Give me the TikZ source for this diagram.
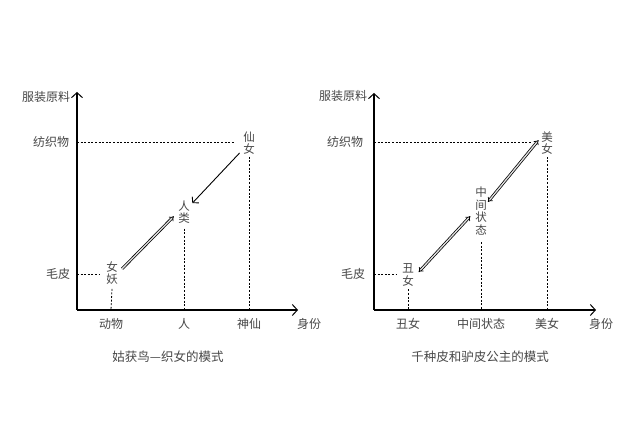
\documentclass[tikz,border=0pt]{standalone}
\usepackage{fontspec}
\setmainfont{Noto Sans CJK SC}
\usetikzlibrary{arrows.meta}
\begin{document}
\begin{tikzpicture}[x=1pt,y=-1pt,
  lab/.style={font=\fontsize{12}{13}\selectfont, text=black!72, inner sep=0pt},
  vlab/.style={font=\fontsize{11.5}{12.5}\selectfont, text=black!72, inner sep=0pt, align=center},
  axisline/.style={line width=1.1pt, -{Straight Barb[length=5pt,width=11pt,line width=1pt]}},
  guide/.style={line width=0.8pt, dash pattern=on 2pt off 1.6pt},
  onearrow/.style={line width=0.9pt, -{Straight Barb[length=4pt,width=9pt]}},
  twoarrow/.style={line width=0.75pt, double=black!12, double distance=1.3pt, {Implies}-{Implies}},
  onetwoarrow/.style={line width=0.75pt, double=black!12, double distance=1.3pt, -{Implies}}
]
\useasboundingbox (0,0) rectangle (640,427);
\fill[white] (0,0) rectangle (640,427);

% ---------- left chart ----------
\coordinate (O1) at (77,310);
\coordinate (Y1) at (77,92);
\coordinate (X1) at (298,310);
\draw[axisline] (O1) -- (Y1);
\draw[axisline] (O1) -- (X1);

\node[lab] (ly1) at (46,97) {服装原料};
\node[lab] (lf1) at (51,142) {纺织物};
\node[lab] (lm1) at (58,274) {毛皮};
\node[lab] (lx1a) at (111,324) {动物};
\node[lab] (lx1b) at (184,324) {人};
\node[lab] (lx1c) at (249,324) {神仙};
\node[lab] (lx1d) at (309,324) {身份};

\node[vlab] (xiannv) at (249,143) {仙\\女};
\node[vlab] (renlei) at (184,212) {人\\类};
\node[vlab] (nvyao) at (112,273) {女\\妖};

\coordinate (g1a) at (77,142); \coordinate (g1b) at (235,142);
\coordinate (g1c) at (77,274); \coordinate (g1d) at (99,274);
\draw[guide] (g1a) -- (g1b);
\draw[guide] (g1c) -- (g1d);
\draw[guide] (xiannv.south) ++(0,2) -- (lx1c.north |- O1);
\draw[guide] (renlei.south) ++(0,5) -- (lx1b.north |- O1);
\draw[guide] (nvyao.south) ++(0,4) -- (lx1a.north |- O1);

\draw[onearrow, shorten <=5pt, shorten >=3.5pt] (xiannv) -- (renlei);
\draw[onetwoarrow, shorten <=6pt, shorten >=6pt] (nvyao.east) -- (renlei.west);

\node[lab, font=\fontsize{12.5}{14}\selectfont] (cap1) at (168,357) {姑获鸟—织女的模式};

% ---------- right chart ----------
\coordinate (O2) at (374,310);
\coordinate (Y2) at (374,93);
\coordinate (X2) at (596,310);
\draw[axisline] (O2) -- (Y2);
\draw[axisline] (O2) -- (X2);

\node[lab] (ly2) at (343,96) {服装原料};
\node[lab] (lf2) at (345,142) {纺织物};
\node[lab] (lm2) at (353,274) {毛皮};
\node[lab] (lx2a) at (408,324) {丑女};
\node[lab] (lx2b) at (481,324) {中间状态};
\node[lab] (lx2c) at (547,324) {美女};
\node[lab] (lx2d) at (601,324) {身份};

\node[vlab] (meinv) at (547,143) {美\\女};
\node[vlab] (zhongjian) at (481,211) {中\\间\\状\\态};
\node[vlab] (chounv) at (408,275) {丑\\女};

\coordinate (g2a) at (374,142); \coordinate (g2b) at (532,142);
\coordinate (g2c) at (374,274); \coordinate (g2d) at (396,274);
\draw[guide] (g2a) -- (g2b);
\draw[guide] (g2c) -- (g2d);
\draw[guide] (meinv.south) ++(0,2) -- (lx2c.north |- O2);
\draw[guide] (zhongjian.south) ++(0,7) -- (lx2b.north |- O2);
\draw[guide] (chounv.south) ++(0,3) -- (lx2a.north |- O2);

\draw[twoarrow, shorten <=7pt, shorten >=7pt] (chounv.-20) -- (zhongjian.west);
\draw[twoarrow, shorten <=1.5pt, shorten >=4pt] (zhongjian.53) -- (meinv.135);

\node[lab, font=\fontsize{12.5}{14}\selectfont] (cap2) at (480,357) {千种皮和驴皮公主的模式};
\end{tikzpicture}
\end{document}
